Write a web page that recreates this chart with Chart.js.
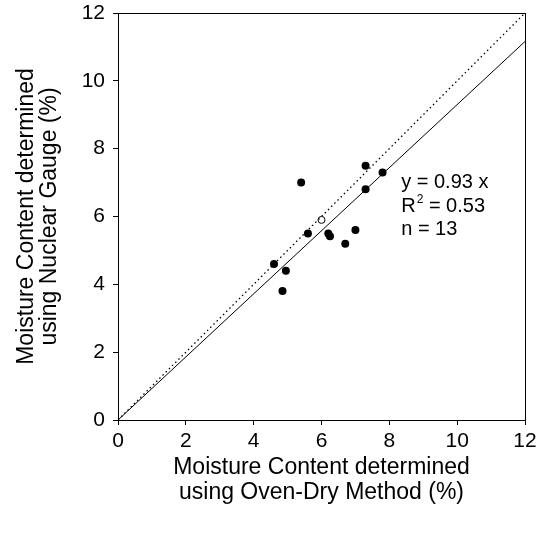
<!DOCTYPE html>
<html>
<head>
<meta charset="utf-8">
<script src="https://cdn.jsdelivr.net/npm/chart.js@4/dist/chart.umd.min.js"></script>
<style>
  body { margin: 0; background: #fff; }
</style>
</head>
<body>
<canvas id="moistureChart" width="539" height="533"></canvas>
<script>
// oven-dry moisture (x) vs nuclear gauge moisture (y), in %
var ovenDry  = [4.6, 4.85, 4.95, 5.4, 5.6, 6.2, 6.25, 6.7, 7.0, 7.3, 7.3, 7.8];
var nuclear  = [4.6, 3.8, 4.4, 7.0, 5.5, 5.5, 5.42, 5.2, 5.6, 6.8, 7.5, 7.3];

// mean point (open circle)
var meanX = [6.0];
var meanY = [5.9];

// fitted slope through origin and the axis range
var slope = 0.93;
var rSquared = 0.53;
var nPoints = 13;
var axisMax = 12;
var tickLabels = ['0', '2', '4', '6', '8', '10', '12'];

var fontFamily = "'Liberation Sans', Arial, Helvetica, sans-serif";

function toPoints(xs, ys) {
    return xs.map(function (x, i) { return { x: x, y: ys[i] }; });
}

// closes the plot frame on the top and right
var frameBox = {
    id: 'frameBox',
    afterDraw: function (chart) {
        var a = chart.chartArea, c = chart.ctx;
        c.save();
        c.strokeStyle = '#000';
        c.lineWidth = 1;
        c.strokeRect(Math.round(a.left) + 0.5, Math.round(a.top) + 0.5,
                     Math.round(a.right - a.left), Math.round(a.bottom - a.top));
        c.restore();
    }
};

// regression statistics written inside the plot
var statsText = {
    id: 'statsText',
    afterDraw: function (chart) {
        var c = chart.ctx;
        var px = chart.scales.x.getPixelForValue(8.35);
        var py = chart.scales.y.getPixelForValue(7.0);
        var big = '20px ' + fontFamily;
        c.save();
        c.fillStyle = '#000';
        c.font = big;
        c.textBaseline = 'middle';
        c.fillText('y = ' + slope.toFixed(2) + ' x', px, py);
        c.fillText('R', px, py + 24);
        var rw = c.measureText('R').width;
        c.font = '12px ' + fontFamily;
        c.fillText('2', px + rw + 1, py + 17);
        var sw = c.measureText('2').width;
        c.font = big;
        c.fillText(' = ' + rSquared.toFixed(2), px + rw + sw + 1, py + 24);
        c.fillText('n = ' + nPoints, px, py + 47);
        c.restore();
    }
};

var ctx = document.getElementById('moistureChart').getContext('2d');

var chart = new Chart(ctx, {
    type: 'scatter',
    data: {
        datasets: [{
            label: '1:1',
            data: [{ x: 0, y: 0 }, { x: axisMax, y: axisMax }],
            showLine: true,
            borderColor: '#000',
            borderWidth: 1.3,
            borderDash: [1.5, 3],
            pointRadius: 0
        }, {
            label: 'fit',
            data: [{ x: 0, y: 0 }, { x: axisMax, y: slope * axisMax }],
            showLine: true,
            borderColor: '#000',
            borderWidth: 1,
            pointRadius: 0
        }, {
            label: 'samples',
            data: toPoints(ovenDry, nuclear),
            backgroundColor: '#000',
            borderColor: '#000',
            pointRadius: 4,
            borderWidth: 0
        }, {
            label: 'mean',
            data: toPoints(meanX, meanY),
            backgroundColor: '#fff',
            borderColor: '#000',
            pointRadius: 3.5,
            borderWidth: 1
        }]
    },
    options: {
        responsive: false,
        animation: false,
        layout: { padding: { top: 13, right: 14, left: 0, bottom: 0 } },
        plugins: {
            legend: { display: false },
            tooltip: { enabled: false }
        },
        scales: {
            x: {
                type: 'linear',
                min: 0,
                max: axisMax,
                afterFit: function (s) { s.height = 113; s.paddingLeft = 0; s.paddingRight = 0; },
                grid: { display: true, drawOnChartArea: false, drawTicks: true, tickLength: 5, color: '#000' },
                border: { display: true, color: '#000', width: 1 },
                ticks: {
                    stepSize: 2,
                    color: '#000',
                    padding: 4,
                    font: { family: fontFamily, size: 21 },
                    callback: function (v, i) { return tickLabels[i]; }
                },
                title: {
                    display: true,
                    text: ['Moisture Content determined', 'using Oven-Dry Method (%)'],
                    color: '#000',
                    font: { family: fontFamily, size: 23, lineHeight: 1.087 },
                    padding: { top: 0, bottom: 28 }
                }
            },
            y: {
                type: 'linear',
                min: 0,
                max: axisMax,
                afterFit: function (s) { s.width = 118; s.paddingTop = 0; s.paddingBottom = 0; },
                grid: { display: true, drawOnChartArea: false, drawTicks: true, tickLength: 5, color: '#000' },
                border: { display: true, color: '#000', width: 1 },
                ticks: {
                    stepSize: 2,
                    color: '#000',
                    padding: 8,
                    font: { family: fontFamily, size: 21 },
                    callback: function (v, i) { return tickLabels[i]; }
                },
                title: {
                    display: true,
                    text: ['Moisture Content determined', 'using Nuclear Gauge (%)'],
                    color: '#000',
                    font: { family: fontFamily, size: 23, lineHeight: 1.0 },
                    padding: { top: 15, bottom: 0 }
                }
            }
        }
    },
    plugins: [frameBox, statsText]
});
</script>
</body>
</html>
